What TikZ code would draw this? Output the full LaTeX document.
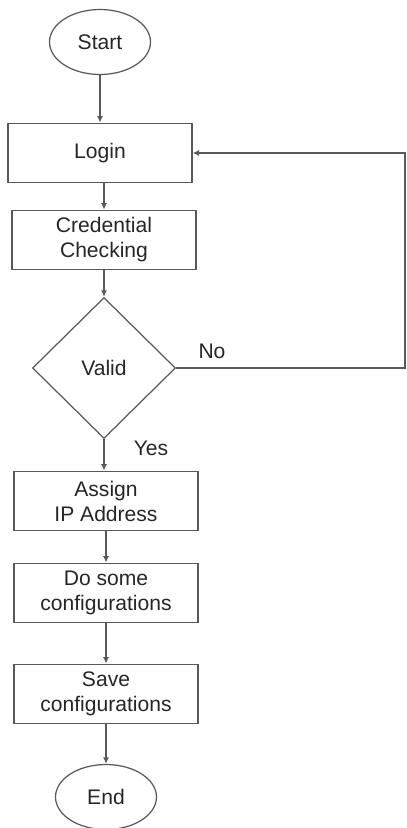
\documentclass[tikz,border=0pt]{standalone}
\usepackage{fontspec}
\setmainfont{Liberation Sans}
\usepackage{tikz}
\usetikzlibrary{arrows.meta}
\usetikzlibrary{shapes.geometric}

\begin{document}
\begin{tikzpicture}[x=0.02cm, y=-0.02cm,
    every node/.style={font=\fontsize{12}{14.2}\selectfont, text=black!85},
    stepbox/.style={draw=black!65, line width=0.7pt, rectangle, align=center,
      minimum width=3.68cm, minimum height=1.19cm, inner sep=0pt},
    term/.style={draw=black!65, line width=0.7pt, ellipse,
      minimum width=2.02cm, minimum height=1.3cm, inner sep=0pt},
    test/.style={draw=black!65, line width=0.7pt, diamond,
      minimum width=2.86cm, minimum height=2.82cm, inner sep=0pt},
    arr/.style={draw=black!65, line width=0.7pt,
      -{Latex[length=1.3mm, width=1.2mm]}}] % Flow

      \useasboundingbox (0, 0) rectangle (406, 828);

      \node [term] (start) at (100, 42) {Start};
      \node [stepbox] (login) at (100, 153) {Login};
      \node [stepbox] (cred) at (104, 240) {Credential\\Checking};
      \node [test] (valid) at (104, 368) {Valid};
      \node [stepbox] (assign) at (106, 501) {Assign\\IP Address};
      \node [stepbox] (config) at (106, 593) {Do some\\configurations};
      \node [stepbox] (save) at (106, 694) {Save\\configurations};
      \node [term] (end) at (106, 797) {End};

      \node (no) at (212, 351) {No};
      \node (yes) at (151, 448) {Yes};

      \coordinate (back) at (405, 153);

      \draw [arr] (start) -- (login);
      \draw [arr] (cred.north |- login.south) -- (cred.north);
      \draw [arr] (cred) -- (valid);
      \draw [arr] (valid.south) -- (valid.south |- assign.north);
      \draw [arr] (assign) -- (config);
      \draw [arr] (config) -- (save);
      \draw [arr] (save) -- (end);

      % back to login
      \draw [arr] (valid.east) -| (back) -- (login.east);

    \end{tikzpicture}
\end{document}
